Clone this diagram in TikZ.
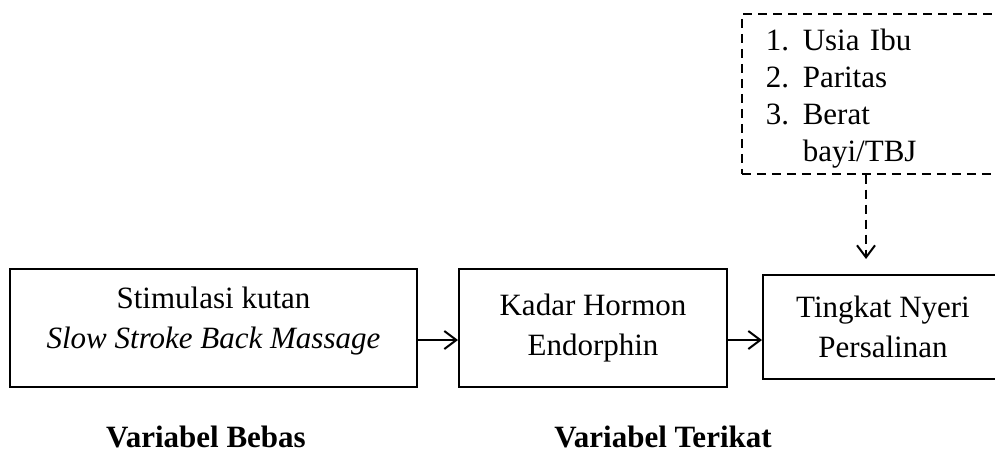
\documentclass[tikz,border=0pt]{standalone}
\usepackage{fontspec}
\setmainfont{Liberation Serif}
\usetikzlibrary{arrows.meta, positioning}
\tikzset{
  box/.style = {draw, line width=1pt, align=center, inner sep=0pt},
  arrow/.style = {line width=1pt, -{Straight Barb[length=6pt, width=9pt]}},
  dashbox/.style = {draw, dash pattern=on 4.5pt off 3pt, line width=0.8pt},
  label/.style = {font=\fontsize{15.5}{20}\selectfont\bfseries}
}

\begin{document}
\begin{tikzpicture}[x=0.5pt, y=-0.5pt, font=\fontsize{15.5}{20}\selectfont]
    \useasboundingbox (0,0) rectangle (995,456);
    \clip (0,0) rectangle (995,456);
    \node[box, minimum width=203.5pt, minimum height=59pt] (stim) at (213.5,328)
      {Stimulasi kutan\\ \textit{Slow Stroke Back Massage}\\[-10pt] \mbox{}};
    \node[box, minimum width=134pt, minimum height=59pt] (hormon) at (593,328)
      {Kadar Hormon\\ Endorphin\\[-17pt] \mbox{}};
    \node[box, minimum width=120pt, minimum height=52pt] (nyeri) at (883,327)
      {Tingkat Nyeri\\ Persalinan};
    \node[dashbox, anchor=north west, minimum height=80pt, text width=126pt,
      inner xsep=12pt, inner ysep=0pt, align=left,
      font=\fontsize{15.5}{18.5}\selectfont] (faktor) at (741,13)
      {\rule{0pt}{15.5pt}\makebox[18.5pt][l]{1.}Usia Ibu\\
       \makebox[18.5pt][l]{2.}Paritas\\
       \makebox[18.5pt][l]{3.}Berat\\
       \hspace*{18.5pt}bayi/TBJ};
    \draw[arrow] ([yshift=-6pt]stim.east) -- ([yshift=-6pt]stim.east -| hormon.west);
    \draw[arrow] ([yshift=-6pt]hormon.east) -- ([yshift=-6pt]hormon.east -| nyeri.west);
    \coordinate (masuk) at ([xshift=-8.5pt]nyeri.north);
    \draw[arrow, dash pattern=on 4.5pt off 3pt, shorten >=7.5pt] (faktor.south -| masuk) -- (masuk);
    \node[label] (bebas) at (206,437) {Variabel Bebas};
    \node[label] (terikat) at (663,437) {Variabel Terikat};
\end{tikzpicture}
\end{document}
